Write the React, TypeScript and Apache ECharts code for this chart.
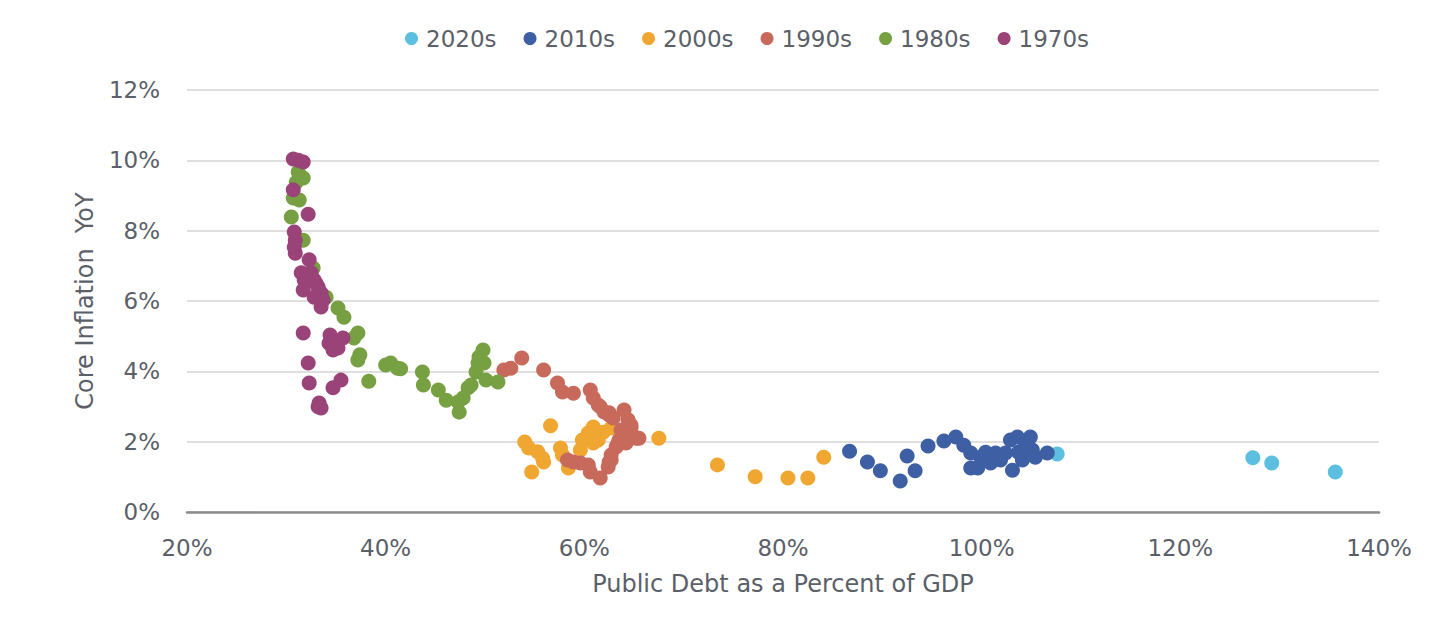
import React, { useEffect, useRef } from "react";
import * as echarts from "echarts";

const seriesNames = ["2020s", "2010s", "2000s", "1990s", "1980s", "1970s"];
const seriesColors = ["#5cbfe0", "#3e5fa4", "#f0a732", "#c76a5c", "#77a043", "#9a4379"];

const xTicks = [20, 40, 60, 80, 100, 120, 140];
const yTicks = [0, 2, 4, 6, 8, 10, 12];

const d2020 = [[107.6, 1.65], [127.3, 1.54], [129.2, 1.39], [135.6, 1.14]];

const d2010 = [
  [86.7, 1.73], [88.5, 1.42], [89.8, 1.17], [91.8, 0.88], [92.5, 1.59], [93.3, 1.17],
  [94.6, 1.88], [96.2, 2.02], [97.4, 2.13], [98.2, 1.9], [98.9, 1.68], [98.9, 1.25],
  [99.6, 1.25], [99.9, 1.56], [100.4, 1.7], [100.9, 1.39], [101.4, 1.68], [101.9, 1.48],
  [102.4, 1.68], [102.9, 2.05], [103.1, 1.19], [103.6, 2.13], [103.7, 1.7], [104.1, 1.48],
  [104.4, 1.9], [104.9, 2.13], [105.1, 1.76], [105.4, 1.56], [106.6, 1.68],
];

const d2000 = [
  [56.6, 2.45], [54.0, 1.99], [54.4, 1.82], [55.3, 1.71], [55.8, 1.53], [55.9, 1.42],
  [54.7, 1.14], [57.6, 1.82], [57.8, 1.62], [58.4, 1.25], [59.6, 1.76], [59.8, 2.05],
  [60.4, 2.25], [60.9, 2.42], [61.4, 2.05], [61.9, 2.27], [62.7, 2.39], [60.9, 1.96],
  [61.2, 2.2], [67.5, 2.1], [73.4, 1.34], [77.2, 1.0], [80.5, 0.97], [82.5, 0.97], [84.1, 1.56],
];

const d1990 = [
  [51.9, 4.04], [52.6, 4.09], [53.7, 4.38], [55.9, 4.04], [57.3, 3.67], [57.8, 3.41],
  [58.9, 3.38], [60.6, 3.47], [60.9, 3.24], [61.4, 3.04], [62.0, 2.84], [62.5, 2.76],
  [62.9, 2.67], [64.0, 2.9], [64.4, 2.62], [64.7, 2.39], [65.0, 2.13], [65.5, 2.1],
  [64.2, 1.96], [63.5, 2.05], [63.2, 1.85], [62.7, 1.62], [62.5, 1.42], [61.6, 0.97],
  [58.3, 1.48], [58.9, 1.42], [59.6, 1.39], [60.4, 1.34], [60.6, 1.14], [62.4, 1.28],
  [62.7, 1.48], [63.4, 1.96], [64.0, 2.05], [64.5, 2.25], [65.2, 2.1], [63.7, 2.33],
  [64.7, 2.47], [61.6, 2.99], [62.5, 2.82],
];

const d1980 = [
  [31.2, 9.67], [31.7, 9.5], [31.0, 9.38], [30.7, 8.93], [31.3, 8.87], [30.5, 8.39],
  [31.7, 7.73], [32.7, 6.94], [34.0, 6.11], [35.2, 5.8], [35.8, 5.54], [37.2, 5.09],
  [36.8, 4.95], [37.4, 4.47], [37.2, 4.32], [38.3, 3.72], [40.0, 4.18], [40.5, 4.24],
  [41.2, 4.09], [41.5, 4.07], [43.7, 3.98], [43.8, 3.61], [45.3, 3.47], [46.1, 3.18],
  [47.3, 3.13], [47.4, 2.84], [47.8, 3.24], [48.3, 3.53], [48.6, 3.61], [49.1, 3.98],
  [49.3, 4.24], [49.4, 4.41], [49.8, 4.61], [49.9, 4.24], [50.1, 3.75], [51.3, 3.7],
];

const d1970 = [
  [30.7, 10.04], [31.2, 10.0], [31.7, 9.95], [30.7, 9.16], [32.2, 8.47], [30.8, 7.96],
  [30.9, 7.73], [30.8, 7.53], [30.9, 7.36], [32.3, 7.17], [31.5, 6.8], [31.8, 6.6],
  [32.5, 6.8], [32.8, 6.6], [33.2, 6.4], [31.7, 6.31], [33.5, 6.23], [33.7, 6.03],
  [33.5, 5.83], [32.8, 6.11], [33.0, 6.5], [32.0, 6.7], [31.7, 5.09], [34.4, 5.03],
  [34.3, 4.8], [35.7, 4.95], [34.7, 4.61], [35.2, 4.66], [32.2, 4.24], [32.3, 3.67],
  [35.5, 3.75], [34.7, 3.53], [33.3, 3.1], [33.5, 2.96], [33.2, 2.99],
];

const allData = [d2020, d2010, d2000, d1990, d1980, d1970];

const FONT = "'DejaVu Sans', 'Noto Sans', sans-serif";
const TEXT = "#5b6068";

export default function App() {
  const ref = useRef<HTMLDivElement>(null);
  useEffect(() => {
    document.body.style.margin = "0";
    const chart = echarts.init(ref.current!, null, { renderer: "svg" });
    chart.setOption({
      animation: false,
      backgroundColor: "#ffffff",
      textStyle: { fontFamily: FONT },
      legend: {
        top: 22,
        left: 400,
        icon: "circle",
        itemWidth: 13,
        itemHeight: 13,
        itemGap: 27,
        textStyle: { color: TEXT, fontSize: 23, fontFamily: FONT, padding: [0, 0, 0, 3] },
        data: seriesNames,
      },
      grid: { left: 187, right: 67, top: 90, bottom: 106, containLabel: false },
      xAxis: {
        type: "value",
        min: xTicks[0],
        max: xTicks[xTicks.length - 1],
        interval: 20,
        name: "Public Debt as a Percent of GDP",
        nameLocation: "middle",
        nameGap: 60,
        nameTextStyle: { color: TEXT, fontSize: 24, fontFamily: FONT },
        axisLine: { show: true, lineStyle: { color: "#8c8c8c", width: 2.5 } },
        axisTick: { show: false },
        splitLine: { show: false },
        axisLabel: { color: TEXT, fontSize: 23, margin: 24, formatter: "{value}%" },
      },
      yAxis: {
        type: "value",
        min: yTicks[0],
        max: yTicks[yTicks.length - 1],
        interval: 2,
        name: "Core Inflation  YoY",
        nameLocation: "middle",
        nameGap: 90,
        nameTextStyle: { color: TEXT, fontSize: 24, fontFamily: FONT },
        axisLine: { show: false },
        axisTick: { show: false },
        splitLine: { show: true, lineStyle: { color: "#d4d4d4", width: 1.5 } },
        axisLabel: { color: TEXT, fontSize: 23, margin: 27, formatter: "{value}%" },
      },
      series: seriesNames.map((name, i) => ({
        name,
        type: "scatter",
        symbol: "circle",
        symbolSize: 15,
        itemStyle: { color: seriesColors[i], opacity: 1 },
        data: allData[i],
        z: 2 + i,
      })),
    });
    return () => chart.dispose();
  }, []);
  return <div ref={ref} style={{ width: 1446, height: 618 }} />;
}
